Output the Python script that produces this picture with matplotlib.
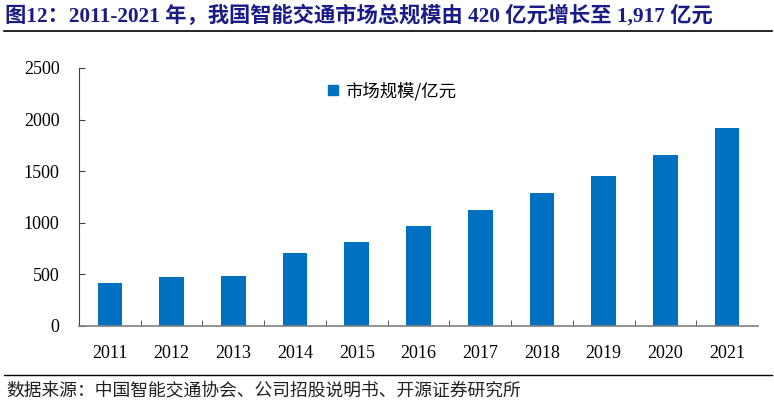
import matplotlib
matplotlib.use("Agg")
import matplotlib.pyplot as plt
from matplotlib.lines import Line2D
import numpy as np

years = ["2011", "2012", "2013", "2014", "2015", "2016", "2017", "2018", "2019", "2020", "2021"]
market_size = [420, 470, 480, 710, 810, 970, 1120, 1290, 1450, 1660, 1917]
series_name = "市场规模/亿元"
title = "图12：2011-2021 年，我国智能交通市场总规模由 420 亿元增长至 1,917 亿元"
source = "数据来源：中国智能交通协会、公司招股说明书、开源证券研究所"
yticks = [0, 500, 1000, 1500, 2000, 2500]

W, H = 774, 405
fig = plt.figure(figsize=(W / 100, H / 100), dpi=100)

serif = ["Liberation Serif", "Noto Sans CJK SC"]
cjk = ["Noto Sans CJK SC", "DejaVu Sans"]
blue = "#0070C0"

ax = fig.add_axes([79 / W, 1 - 326 / H, (758 - 79) / W, (326 - 68) / H])
x = np.arange(len(years))
ax.bar(x, market_size, width=0.4, color=blue, zorder=2)
ax.set_xlim(-0.5, len(years) - 0.5)
ax.set_ylim(0, 2500)
ax.set_yticks(yticks)
ax.set_yticklabels([str(v) for v in yticks], fontfamily=serif, fontsize=13)
ax.set_xticks(x)
ax.set_xticklabels(years, fontfamily=serif, fontsize=13)
ax.set_xticks(np.arange(-0.5, len(years) - 0.5 + 0.01, 1.0)[1:-1], minor=True)
ax.tick_params(axis="x", which="major", length=0, pad=14)
ax.tick_params(axis="x", which="minor", direction="in", length=4, color="#404040")
ax.tick_params(axis="y", direction="in", length=4, color="#404040", pad=14)
for s in ["top", "right"]:
    ax.spines[s].set_visible(False)
ax.spines["left"].set_color("#404040")
ax.spines["bottom"].set_color("#808080")
ax.spines["bottom"].set_linewidth(1.2)

handle = Line2D([], [], marker="s", color=blue, linestyle="none", markersize=7)
leg = ax.legend([handle], [series_name], loc="upper left", bbox_to_anchor=(0.335, 1.008),
                frameon=False, prop={"family": cjk, "size": 12.5}, handletextpad=0.1,
                handlelength=1.2)

fig.text(5 / W, 1 - 16 / H, title, fontfamily=serif, fontweight="bold", fontsize=15.3,
         color="#1B1B86", va="center", ha="left")
fig.add_artist(Line2D([4 / W, 772 / W], [1 - 31 / H, 1 - 31 / H], color="black", linewidth=1.2))
fig.add_artist(Line2D([4 / W, 772 / W], [1 - 375 / H, 1 - 375 / H], color="black", linewidth=1.0))
fig.text(6 / W, 1 - 390 / H, source, fontfamily=cjk, fontsize=12.8, color="#202020",
         va="center", ha="left")

fig.savefig("out.png", dpi=100)
